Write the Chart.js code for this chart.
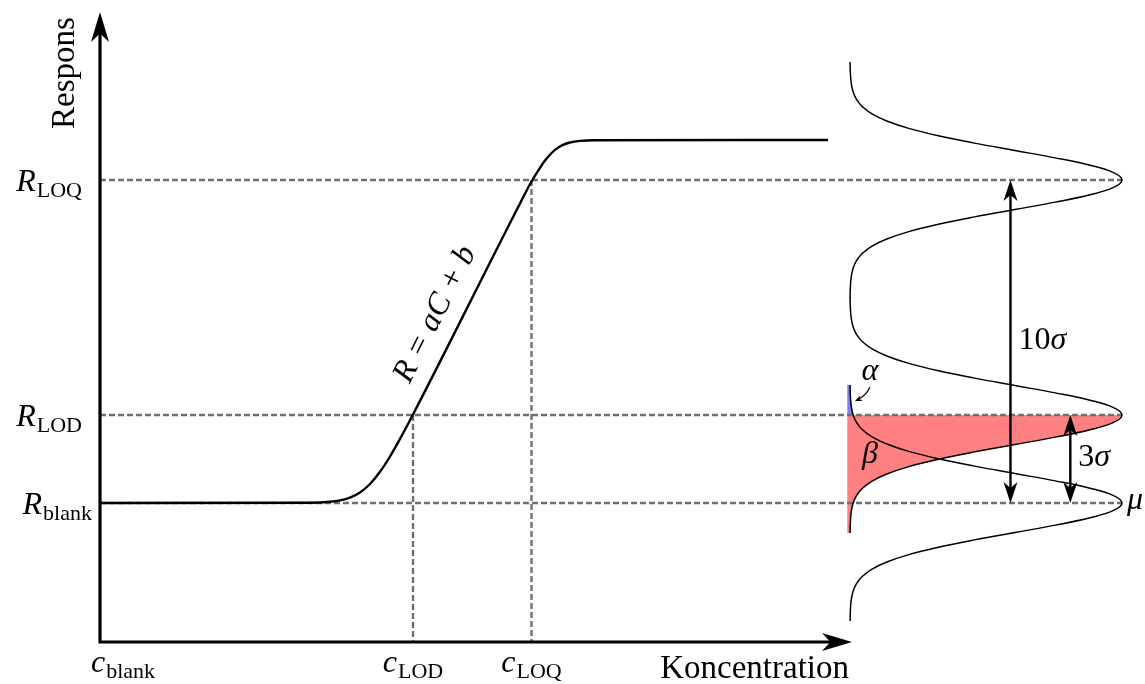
<!DOCTYPE html>
<html>
<head>
<meta charset="utf-8">
<title>LOD och LOQ</title>
<script src="https://cdn.jsdelivr.net/npm/chart.js@4.4.1/dist/chart.umd.min.js"></script>
<style>
  html, body { margin: 0; padding: 0; background: #fff; }
  #wrap { width: 1145px; height: 684px; }
</style>
</head>
<body>
<div id="wrap"><canvas id="diagram" width="1145" height="684"></canvas></div>
<script>
// Data (concentration and response in arbitrary units)
const tickNames = ['blank', 'LOD', 'LOQ'];
const concTicks = [0, 31.3, 43.15];
const respTicks = [13.9, 22.7, 46.2];

// calibration curve R(C)
const calibConc = [0, 21, 23, 24, 25, 26, 27, 28, 29, 30, 31.3, 42, 43.15, 44, 44.5, 45.16, 45.6, 46.2, 47, 48, 49.5, 72.8];
const calibResp = [13.9, 13.93, 14.03, 14.16, 14.44, 14.95, 15.8, 17.02, 18.55, 20.31, 22.75, 43.85, 46.05, 47.42, 48.14, 48.9, 49.29, 49.67, 49.95, 50.11, 50.18, 50.2];

// normal distribution profile: distance from the mean (in sigma) and relative density
const profileSigmas = [0, 0.25, 0.5, 0.75, 1, 1.25, 1.5, 1.75, 2, 2.25, 2.5, 2.75, 3, 3.25, 3.5, 3.75, 4];
const profileDensity = [1, 0.969, 0.8825, 0.7548, 0.6065, 0.4578, 0.3247, 0.2163, 0.1353, 0.0796, 0.0439, 0.0228, 0.0111, 0.0051, 0.0022, 0.0009, 0.0003];
const sigma = 2.95;
const fillBase = -0.01;

// double arrows 10sigma / 3sigma: density position, from-response, label
const spanDensity = [0.59, 0.81];
const spanFrom = [46.2, 22.7];
const spanLabels = [['10', 'σ'], ['3', 'σ']];

// axis ends
const concAxisEnd = 75.2;
const respAxisEnd = 63;

const FONT = '"Liberation Serif", "DejaVu Serif", serif';

function distPoints(mu) {
    const pts = [];
    for (let i = profileSigmas.length - 1; i > 0; i--) {
        pts.push({ x: profileDensity[i], y: mu + profileSigmas[i] * sigma });
    }
    for (let i = 0; i < profileSigmas.length; i++) {
        pts.push({ x: profileDensity[i], y: mu - profileSigmas[i] * sigma });
    }
    return pts;
}

// beta: LOD distribution below R_LOD
const rLod = respTicks[1];
const betaPoints = [{ x: fillBase, y: rLod }];
profileSigmas.forEach((s, i) => betaPoints.push({ x: profileDensity[i], y: rLod - s * sigma }));
betaPoints.push({ x: fillBase, y: rLod - 4 * sigma });

// alpha: blank distribution above R_LOD
const rBlank = respTicks[0];
const alphaPoints = [];
profileSigmas.forEach((s, i) => {
    const y = rBlank + s * sigma;
    if (y >= rLod) alphaPoints.push({ x: profileDensity[i], y: y });
});
alphaPoints.unshift({ x: fillBase, y: alphaPoints[0].y });
alphaPoints.push({ x: fillBase, y: alphaPoints[alphaPoints.length - 1].y });

function arrowHead(ctx, x, y, ang, len, wid) {
    ctx.save();
    ctx.translate(x, y);
    ctx.rotate(ang);
    ctx.beginPath();
    ctx.moveTo(0, 0);
    ctx.lineTo(-len, wid / 2);
    ctx.lineTo(-len * 0.72, 0);
    ctx.lineTo(-len, -wid / 2);
    ctx.closePath();
    ctx.fill();
    ctx.restore();
}

// main symbol in italic with an upright subscript
function subLabel(ctx, main, sub, x, y, align) {
    const mainFont = 'italic 32px ' + FONT;
    const subFont = '22px ' + FONT;
    ctx.font = mainFont;
    const wm = ctx.measureText(main).width;
    ctx.font = subFont;
    const ws = ctx.measureText(sub).width;
    const total = wm + 1 + ws;
    let x0 = x;
    if (align === 'right') x0 = x - total;
    if (align === 'center') x0 = x - total / 2;
    ctx.textAlign = 'left';
    ctx.textBaseline = 'alphabetic';
    ctx.font = mainFont;
    ctx.fillText(main, x0, y);
    ctx.font = subFont;
    ctx.fillText(sub, x0 + wm + 1, y + 6);
}

function drawGuides(chart) {
    const ctx = chart.ctx;
    const xs = chart.scales.x, ys = chart.scales.y, ds = chart.scales.d;
    ctx.save();
    ctx.strokeStyle = '#707070';
    ctx.lineWidth = 2.4;
    ctx.setLineDash([6, 3]);
    respTicks.forEach(r => {
        const y = ys.getPixelForValue(r);
        ctx.beginPath();
        ctx.moveTo(xs.getPixelForValue(0), y);
        ctx.lineTo(ds.getPixelForValue(1), y);
        ctx.stroke();
    });
    for (let i = 1; i < concTicks.length; i++) {
        const x = xs.getPixelForValue(concTicks[i]);
        ctx.beginPath();
        ctx.moveTo(x, ys.getPixelForValue(respTicks[i]));
        ctx.lineTo(x, ys.getPixelForValue(0));
        ctx.stroke();
    }
    ctx.restore();
}

function drawOverlay(chart) {
    const ctx = chart.ctx;
    const xs = chart.scales.x, ys = chart.scales.y, ds = chart.scales.d;
    const ox = xs.getPixelForValue(0), oy = ys.getPixelForValue(0);
    ctx.save();
    ctx.fillStyle = '#000';
    ctx.strokeStyle = '#000';

    // axes
    const topY = ys.getPixelForValue(respAxisEnd);
    const rightX = xs.getPixelForValue(concAxisEnd);
    ctx.lineWidth = 3.2;
    ctx.lineJoin = 'miter';
    ctx.beginPath();
    ctx.moveTo(ox, topY + 20);
    ctx.lineTo(ox, oy);
    ctx.lineTo(rightX - 20, oy);
    ctx.stroke();
    arrowHead(ctx, ox, topY, -Math.PI / 2, 30, 18);
    arrowHead(ctx, rightX, oy, 0, 30, 18);

    // 10sigma and 3sigma arrows
    ctx.lineWidth = 2.4;
    const yb = ys.getPixelForValue(rBlank);
    spanDensity.forEach((d, i) => {
        const x = ds.getPixelForValue(d);
        const y1 = ys.getPixelForValue(spanFrom[i]);
        ctx.beginPath();
        ctx.moveTo(x, y1 + 12);
        ctx.lineTo(x, yb - 12);
        ctx.stroke();
        arrowHead(ctx, x, y1, -Math.PI / 2, 21, 14);
        arrowHead(ctx, x, yb, Math.PI / 2, 21, 14);
        const mid = (y1 + yb) / 2 + 7;
        ctx.font = '32px ' + FONT;
        ctx.textAlign = 'left';
        ctx.textBaseline = 'alphabetic';
        ctx.fillText(spanLabels[i][0], x + 8, mid);
        const w = ctx.measureText(spanLabels[i][0]).width;
        ctx.font = 'italic 32px ' + FONT;
        ctx.fillText(spanLabels[i][1], x + 8 + w, mid);
    });

    // alpha pointer
    const bx = ds.getPixelForValue(0), by = ys.getPixelForValue(rLod);
    ctx.lineWidth = 1.2;
    ctx.beginPath();
    ctx.moveTo(bx + 20, by - 28);
    ctx.quadraticCurveTo(bx + 16, by - 19, bx + 7, by - 15);
    ctx.stroke();
    arrowHead(ctx, bx + 5, by - 14, Math.atan2(4, -9), 7, 6);

    // greek labels
    ctx.font = 'italic 32px ' + FONT;
    ctx.textAlign = 'center';
    ctx.textBaseline = 'alphabetic';
    ctx.fillText('α', bx + 20, by - 35);
    ctx.fillText('β', bx + 20, by + 48);
    ctx.textAlign = 'left';
    ctx.fillText('μ', ds.getPixelForValue(1) + 5, yb + 6);

    // tick labels
    const rGap = [8, 18, 18];
    respTicks.forEach((r, i) => {
        subLabel(ctx, 'R', tickNames[i], ox - rGap[i], ys.getPixelForValue(r) + 11, 'right');
    });
    const cShift = [23, 0, 0];
    concTicks.forEach((c, i) => {
        subLabel(ctx, 'c', tickNames[i], xs.getPixelForValue(c) + cShift[i], oy + 30, 'center');
    });

    // axis titles
    ctx.font = '33px ' + FONT;
    ctx.textAlign = 'right';
    ctx.textBaseline = 'alphabetic';
    ctx.fillText('Koncentration', rightX - 3, oy + 36);
    ctx.save();
    ctx.translate(ox - 35, topY + 61);
    ctx.rotate(-Math.PI / 2);
    ctx.textAlign = 'center';
    ctx.textBaseline = 'middle';
    ctx.font = '33px ' + FONT;
    ctx.fillText('Respons', 0, 0);
    ctx.restore();

    // R = aC + b along the linear part
    const p1x = xs.getPixelForValue(concTicks[1]), p1y = ys.getPixelForValue(respTicks[1]);
    const p2x = xs.getPixelForValue(concTicks[2]), p2y = ys.getPixelForValue(respTicks[2]);
    const ang = Math.atan2(p2y - p1y, p2x - p1x);
    ctx.save();
    ctx.translate(p1x + Math.cos(ang) * 100, p1y + Math.sin(ang) * 100);
    ctx.rotate(ang);
    ctx.font = 'italic 32px ' + FONT;
    ctx.textAlign = 'center';
    ctx.fillText('R = aC + b', 0, -17);
    ctx.restore();

    ctx.restore();
}

const diagramPlugin = {
    id: 'diagram',
    beforeDatasetDraw(chart, args) {
        if (args.index === 3) drawGuides(chart);
    },
    afterDatasetsDraw(chart) {
        drawOverlay(chart);
    }
};

const curveStyle = { borderColor: '#000', borderWidth: 1.5, tension: 0.4, fill: false, xAxisID: 'd', yAxisID: 'y' };

const chart = new Chart(document.getElementById('diagram').getContext('2d'), {
    type: 'line',
    data: {
        datasets: [
            {
                label: 'kalibrering',
                data: calibConc.map((c, i) => ({ x: c, y: calibResp[i] })),
                xAxisID: 'x', yAxisID: 'y',
                borderColor: '#000', borderWidth: 2.4,
                cubicInterpolationMode: 'monotone', fill: false
            },
            Object.assign({ label: 'LOQ', data: distPoints(respTicks[2]) }, curveStyle),
            Object.assign({ label: 'LOD', data: distPoints(respTicks[1]) }, curveStyle),
            Object.assign({ label: 'blank', data: distPoints(respTicks[0]) }, curveStyle),
            {
                label: 'beta', data: betaPoints, xAxisID: 'd', yAxisID: 'y',
                borderColor: 'rgba(0,0,0,0)', borderWidth: 0, backgroundColor: '#ff8080',
                fill: 'shape', tension: 0
            },
            {
                label: 'alpha', data: alphaPoints, xAxisID: 'd', yAxisID: 'y',
                borderColor: 'rgba(0,0,0,0)', borderWidth: 0, backgroundColor: '#7f7ff5',
                fill: 'shape', tension: 0
            }
        ]
    },
    options: {
        responsive: false,
        animation: false,
        devicePixelRatio: 1,
        layout: { padding: 0 },
        elements: { point: { radius: 0, hoverRadius: 0 } },
        plugins: { legend: { display: false }, tooltip: { enabled: false } },
        events: [],
        scales: {
            x: { type: 'linear', display: false, min: -10, max: 104.5 },
            d: { type: 'linear', axis: 'x', display: false, min: -850 / 272, max: 295 / 272 },
            y: { type: 'linear', display: false, min: -4.2, max: 64.2 }
        }
    },
    plugins: [diagramPlugin]
});
</script>
</body>
</html>
